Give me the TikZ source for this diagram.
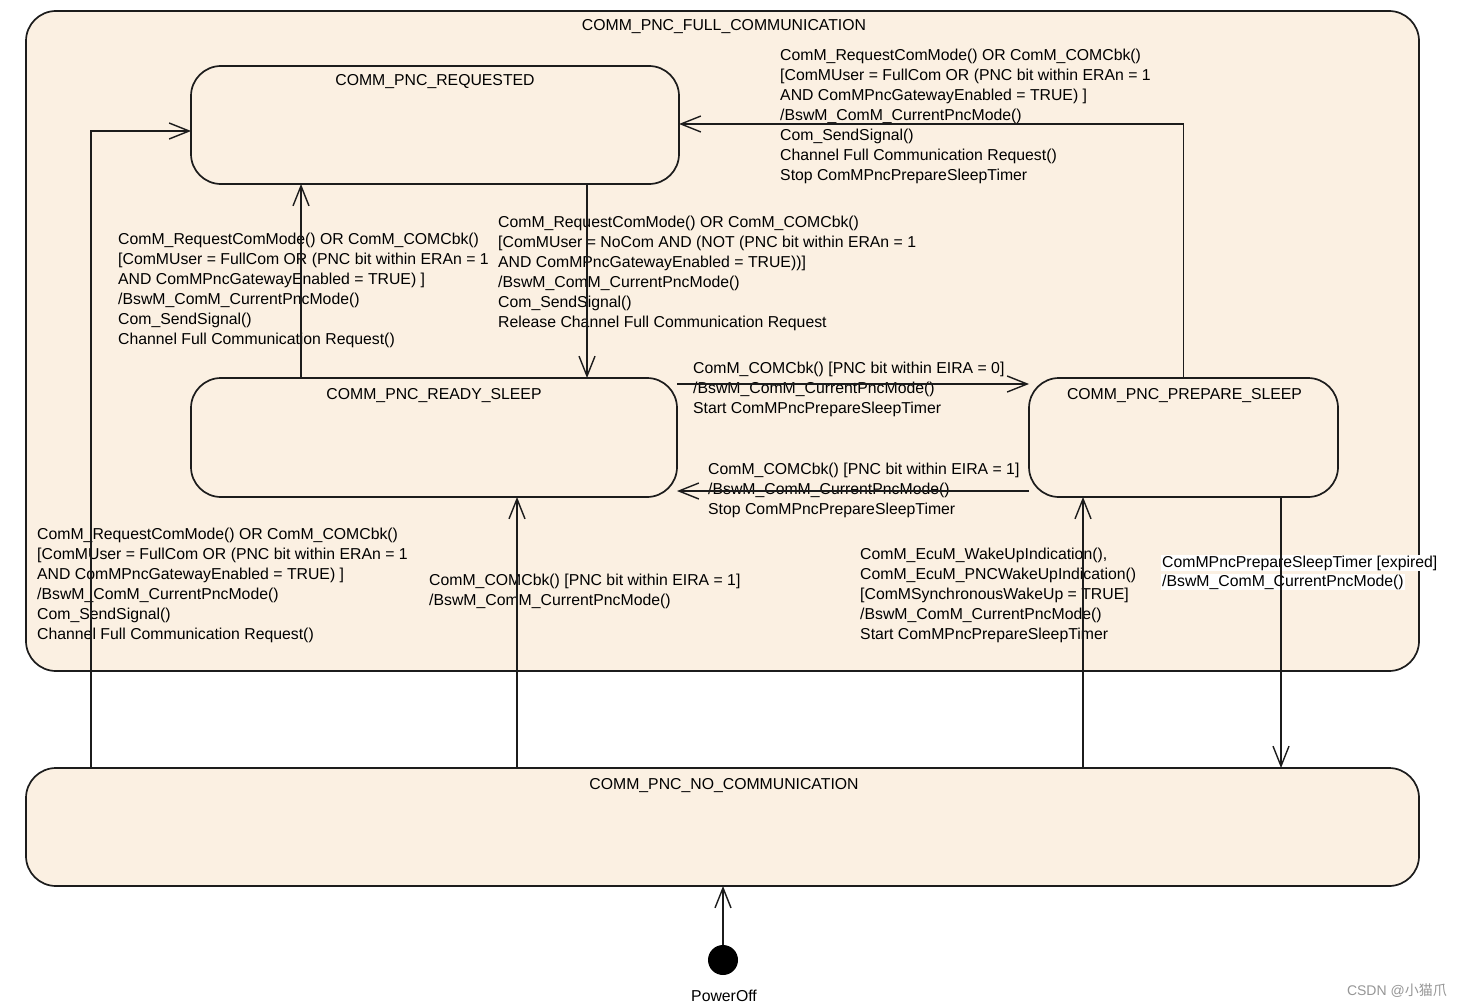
\documentclass[tikz,border=0pt]{standalone}
\usepackage{fontspec}
\setmainfont{Liberation Sans}
\newfontfamily\cjk{Noto Sans CJK SC}
\usetikzlibrary{arrows.meta}
\definecolor{stbg}{RGB}{251,240,226}
\definecolor{ln}{RGB}{28,28,28}
\definecolor{wm}{RGB}{150,150,150}
\tikzset{
  statebox/.style={draw=ln, line width=1.7pt, fill=stbg, rounded corners=30pt, inner sep=0pt, outer sep=0pt},
  ttl/.style={anchor=base, inner sep=0pt},
  lbl/.style={anchor=base west, align=left, inner sep=0pt},
  conn/.style={draw=ln, line width=1.4pt, -{Straight Barb[length=20pt,width=16pt,line width=1.4pt]}},
  plain/.style={draw=ln, line width=1.4pt}
}
\begin{document}
\begin{tikzpicture}[x=1pt,y=-1pt,font=\fontsize{15.8}{20}\selectfont]
\useasboundingbox[fill=white] (0,0) rectangle (1463,1006);
% states
\node[statebox, minimum width=1393pt, minimum height=660pt] (full) at (722.5,341) {};
\node[statebox, minimum width=488pt, minimum height=118pt] (req) at (435,125) {};
\node[statebox, minimum width=486pt, minimum height=119pt] (ready) at (434,437.5) {};
\node[statebox, minimum width=309pt, minimum height=119pt] (prep) at (1183.5,437.5) {};
\node[statebox, minimum width=1393pt, minimum height=118pt] (nocomm) at (722.5,827) {};
\node[circle, fill=black, minimum size=30pt, inner sep=0pt, outer sep=0pt] (init) at (723,960) {};
% titles
\node[ttl] (fullt) at (724,31) {COMM\_PNC\_FULL\_COMMUNICATION};
\node[ttl] (reqt) at (435,86) {COMM\_PNC\_REQUESTED};
\node[ttl] (readyt) at (434,399) {COMM\_PNC\_READY\_SLEEP};
\node[ttl] (prept) at (1184.5,399) {COMM\_PNC\_PREPARE\_SLEEP};
\node[ttl] (nocommt) at (724,789) {COMM\_PNC\_NO\_COMMUNICATION};
\node[ttl] (initt) at (724,1001) {PowerOff};
% labels (anchor = baseline of the last line)
\node[lbl] (l4) at (780,180) {ComM\_RequestComMode() OR ComM\_COMCbk()\\
{[}ComMUser = FullCom OR (PNC bit within ERAn = 1\\
AND ComMPncGatewayEnabled = TRUE) ]\\
/BswM\_ComM\_CurrentPncMode()\\
Com\_SendSignal()\\
Channel Full Communication Request()\\
Stop ComMPncPrepareSleepTimer};
\node[lbl] (l2) at (118,344) {ComM\_RequestComMode() OR ComM\_COMCbk()\\
{[}ComMUser = FullCom OR (PNC bit within ERAn = 1\\
AND ComMPncGatewayEnabled = TRUE) ]\\
/BswM\_ComM\_CurrentPncMode()\\
Com\_SendSignal()\\
Channel Full Communication Request()};
\node[lbl] (l3) at (498,327) {ComM\_RequestComMode() OR ComM\_COMCbk()\\
{[}ComMUser = NoCom AND (NOT (PNC bit within ERAn = 1\\
AND ComMPncGatewayEnabled = TRUE))]\\
/BswM\_ComM\_CurrentPncMode()\\
Com\_SendSignal()\\
Release Channel Full Communication Request};
\node[lbl] (l5) at (693,413) {ComM\_COMCbk() [PNC bit within EIRA = 0]\\
/BswM\_ComM\_CurrentPncMode()\\
Start ComMPncPrepareSleepTimer};
\node[lbl] (l6) at (708,514) {ComM\_COMCbk() [PNC bit within EIRA = 1]\\
/BswM\_ComM\_CurrentPncMode()\\
Stop ComMPncPrepareSleepTimer};
\node[lbl] (l1) at (37,639) {ComM\_RequestComMode() OR ComM\_COMCbk()\\
{[}ComMUser = FullCom OR (PNC bit within ERAn = 1\\
AND ComMPncGatewayEnabled = TRUE) ]\\
/BswM\_ComM\_CurrentPncMode()\\
Com\_SendSignal()\\
Channel Full Communication Request()};
\node[lbl] (l7) at (429,605) {ComM\_COMCbk() [PNC bit within EIRA = 1]\\
/BswM\_ComM\_CurrentPncMode()};
\node[lbl] (l8) at (860,639) {ComM\_EcuM\_WakeUpIndication(),\\
ComM\_EcuM\_PNCWakeUpIndication()\\
{[}ComMSynchronousWakeUp = TRUE]\\
/BswM\_ComM\_CurrentPncMode()\\
Start ComMPncPrepareSleepTimer};
\node[lbl, font=\fontsize{15.8}{19}\selectfont] (l9) at (1161,586) {\setlength\fboxsep{1pt}\colorbox{white}{ComMPncPrepareSleepTimer [expired]}\\
\setlength\fboxsep{1pt}\colorbox{white}{/BswM\_ComM\_CurrentPncMode()}};
\node[anchor=base east, inner sep=0pt, text=wm, font=\fontsize{14}{16}\selectfont] (wmk) at (1447,995) {CSDN @{\cjk 小猫爪}};
% connectors
\draw[conn] ([xshift=65pt]nocomm.north west) |- ([yshift=-6pt]req.west);
\draw[conn] ([xshift=110pt]ready.north west) -- ([xshift=110pt]req.south west);
\draw[conn] ([xshift=396pt]req.south west) -- ([xshift=396pt]ready.north west);
\draw[conn] (prep.north) |- ([yshift=1pt]req.east);
\draw[conn] ([yshift=-6pt]ready.north east) -- ([yshift=-6pt]prep.north west);
\draw[conn] ([yshift=6pt]prep.south west) -- ([yshift=6pt]ready.south east);
\draw[conn] ([xshift=491pt]nocomm.north west) -- ([xshift=326pt]ready.south west);
\draw[conn] ([xshift=1057pt]nocomm.north west) -- ([xshift=54pt]prep.south west);
\draw[conn] ([xshift=252pt]prep.south west) -- ([xshift=1255pt]nocomm.north west);
\draw[conn] (init.north) -- (init.north |- nocomm.south);
\end{tikzpicture}
\end{document}
